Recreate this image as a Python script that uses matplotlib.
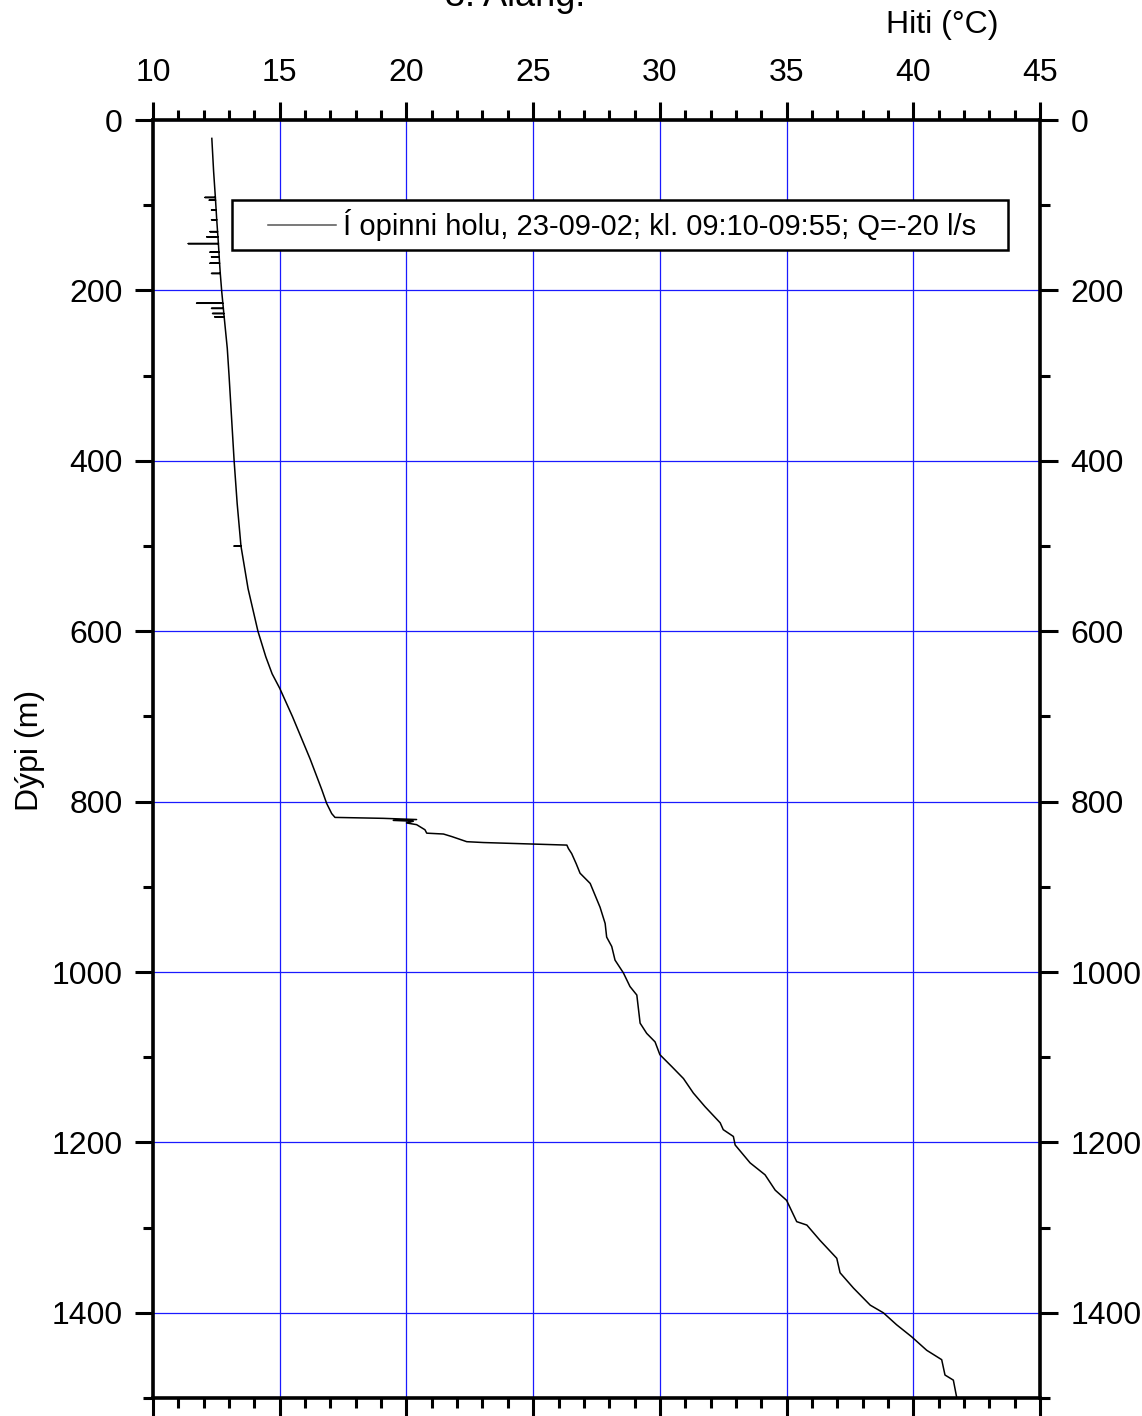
import matplotlib
matplotlib.use("Agg")
import matplotlib.pyplot as plt
from matplotlib.ticker import MultipleLocator
import numpy as np

plt.rcParams['font.family'] = ['Liberation Sans', 'DejaVu Sans']

# Temperature log, open hole (depth m, temperature degC)
depth_main = [21.5, 60, 86, 120, 145, 175, 201, 235, 268, 300, 350, 400, 450,
              500, 550, 600, 630, 650, 667, 700, 750, 775, 786, 802, 814,
              818.5, 819.6, 821, 822, 823, 825, 827, 833, 837, 838, 841, 847,
              848, 851, 855, 861, 873, 884, 896, 924, 943, 959, 970, 986,
              1001, 1017, 1027, 1060, 1072, 1082, 1097, 1111, 1125, 1142,
              1158, 1177, 1185, 1193, 1203, 1224, 1238, 1256, 1268, 1293,
              1297, 1315, 1336, 1353, 1371, 1391, 1400, 1414, 1428, 1444,
              1455, 1473, 1479, 1499]
temp_main = [12.32, 12.39, 12.45, 12.52, 12.58, 12.64, 12.71, 12.82, 12.93,
             13.0, 13.1, 13.2, 13.32, 13.47, 13.75, 14.14, 14.45, 14.7, 15.0,
             15.5, 16.2, 16.52, 16.66, 16.85, 17.05, 17.18, 19.09, 20.4,
             19.48, 20.27, 20.0, 20.4, 20.73, 20.8, 21.46, 21.79, 22.38,
             23.04, 26.33, 26.39, 26.52, 26.7, 26.85, 27.25, 27.64, 27.84,
             27.9, 28.1, 28.23, 28.56, 28.82, 29.09, 29.22, 29.48, 29.81,
             30.0, 30.47, 30.93, 31.32, 31.78, 32.38, 32.5, 32.9, 32.97,
             33.56, 34.15, 34.55, 35.0, 35.4, 35.8, 36.32, 36.98, 37.11,
             37.64, 38.3, 38.82, 39.34, 39.93, 40.53, 41.12, 41.25, 41.58,
             41.71]

# Short cold spikes in the upper part of the log
spike_depth = [90.8, 94, 105.6, 117, 131, 137, 145, 155, 160.5, 168, 180,
               215, 221, 227, 231, 500]
spike_temp = [12.05, 12.22, 12.31, 12.31, 12.25, 12.12, 11.39, 12.25, 12.31,
              12.25, 12.31, 11.72, 12.31, 12.35, 12.44, 13.2]

legend_label = "Í opinni holu, 23-09-02; kl. 09:10-09:55; Q=-20 l/s"

# merge spikes into the profile: go out to the spike value and back
d_all = list(depth_main)
t_all = list(temp_main)
for d, t in zip(spike_depth, spike_temp):
    base = np.interp(d, depth_main, temp_main)
    i = int(np.searchsorted(d_all, d))
    d_all[i:i] = [d, d, d]
    t_all[i:i] = [base, t, base]

fig = plt.figure(figsize=(11.42, 14.16), dpi=100)
ax = fig.add_axes([0.134, 0.0127, 0.7767, 0.9025])

ax.plot(t_all, d_all, color='black', linewidth=1.1, label=legend_label)

ax.set_xlim(10, 45)
ax.set_ylim(1500, 0)

ax.xaxis.set_major_locator(MultipleLocator(5))
ax.xaxis.set_minor_locator(MultipleLocator(1))
ax.yaxis.set_major_locator(MultipleLocator(200))
ax.yaxis.set_minor_locator(MultipleLocator(100))

ax.grid(True, which='major', color='#1a1aff', linewidth=0.9)
ax.set_axisbelow(True)

for sp in ax.spines.values():
    sp.set_linewidth(2.6)

ax.tick_params(axis='both', which='major', direction='out', length=13,
               width=2.2, labelsize=23, top=True, bottom=True, left=True,
               right=True, labeltop=True, labelbottom=False, labelleft=True,
               labelright=True)
ax.tick_params(axis='x', which='major', pad=10)
ax.tick_params(axis='y', which='major', pad=9)
ax.tick_params(axis='both', which='minor', direction='out', length=7,
               width=2.2, top=True, bottom=True, left=True, right=True)

fig.text(0.825, 0.9825, "Hiti (°C)", fontsize=23, ha='center', va='center')
fig.text(0.026, 0.47, "Dýpi (m)", fontsize=23, ha='center', va='center',
         rotation=90)
fig.text(0.451, 0.9955, "3. Alang.", fontsize=26, ha='center',
         va='baseline')

leg = ax.legend(loc='upper left', bbox_to_anchor=(0.089, 0.9374, 0.875, 0.0),
                mode='expand', fontsize=21, handlelength=3.25,
                fancybox=False, framealpha=1, edgecolor='black',
                borderpad=0.3, handletextpad=0.25, borderaxespad=0)
leg.get_frame().set_linewidth(1.8)
# sample line starts a bit in from the frame
sample = leg.get_lines()[0]
xs = sample.get_xdata()
sample.set_xdata([xs[0] + 20, xs[-1]])
sample.set_ydata([sample.get_ydata()[0]] * 2)
sample.set_color('#555555')

fig.savefig("out.png", dpi=100)
